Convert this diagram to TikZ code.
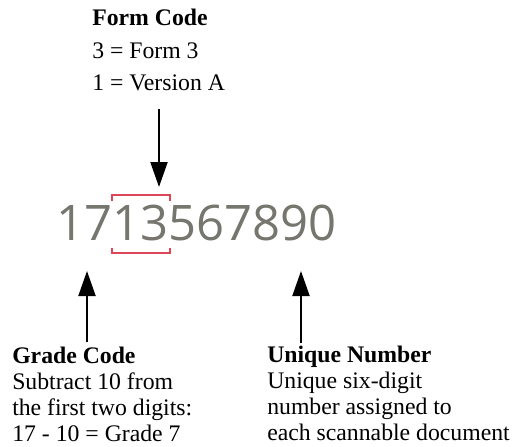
\documentclass[tikz,border=0pt]{standalone}
\usepackage{fontspec}
\setmainfont{Liberation Serif}
\newfontfamily\digitfont{Open Sans}
\usetikzlibrary{arrows.meta}
\definecolor{codegray}{RGB}{118,118,110}
\definecolor{codered}{RGB}{222,70,88}
\tikzset{
	callout/.style={inner sep=0pt,align=left,font=\fontsize{17.8}{19.35}\selectfont},
	pointer/.style={line width=1.5pt,-{Triangle[width=12.75pt,length=18.75pt]}}
}
\begin{document}
\begin{tikzpicture}[x=0.75pt,y=0.75pt]
		\useasboundingbox (0,0) rectangle (512,-447);
		% the scanned number and the bracket round the form digits
		\node[anchor=base west,inner sep=0pt,text=codegray,font=\digitfont\fontsize{36.75}{40}\selectfont] (digits) at (56,-240) {1713567890};
		\draw[codered,line width=1.1pt] (112,-201)--(112,-195)--(170,-195)--(170,-201);
		\draw[codered,line width=1.1pt] (112,-248)--(112,-253)--(170,-253)--(170,-248);
		\coordinate (formtip) at (159,-187);
		\coordinate (gradetip) at (87,-271);
		\coordinate (uniquetip) at (301,-271);
		% labels
		\node[callout,anchor=north west,font=\fontsize{17.8}{24.4}\selectfont] (formcode) at (92,-9) {\textbf{Form Code}\\3 = Form 3\\1 = Version A};
		\node[callout,anchor=north west] (gradecode) at (12,-347) {\textbf{Grade Code}\\Subtract 10 from\\the first two digits:\\17 - 10 = Grade 7};
		\node[callout,anchor=north west] (uniquenum) at (267,-346) {\textbf{Unique Number}\\Unique six-digit\\number assigned to\\each scannable document};
		% pointers
		\draw[pointer] (formtip |- 0,-109) -- (formtip);
		\draw[pointer] (gradetip |- 0,-342) -- (gradetip);
		\draw[pointer] (uniquetip |- 0,-343) -- (uniquetip);
\end{tikzpicture}
\end{document}
